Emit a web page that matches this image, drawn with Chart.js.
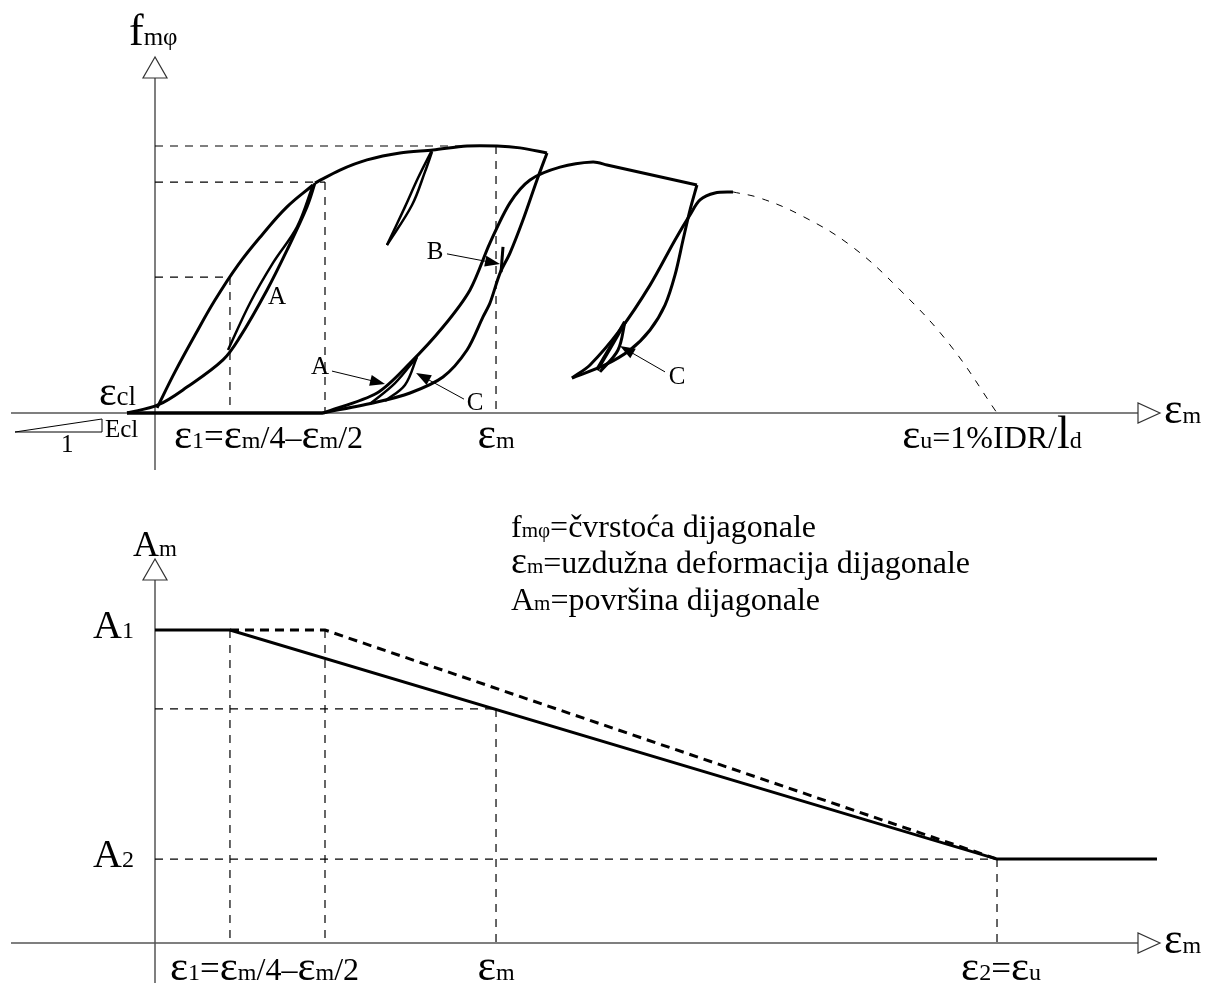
<!DOCTYPE html>
<html>
<head>
<meta charset="utf-8">
<script src="https://cdn.jsdelivr.net/npm/chart.js@4.4.0/dist/chart.umd.min.js"></script>
<style>
  body { margin: 0; background: #fff; }
  #wrap { position: relative; width: 1208px; height: 983px; }
  canvas { position: absolute; left: 0; }
  #top-chart { top: 0; }
  #bottom-chart { top: 480px; }
</style>
</head>
<body>
<div id="wrap">
  <canvas id="top-chart" width="1208" height="480"></canvas>
  <canvas id="bottom-chart" width="1208" height="503"></canvas>
</div>
<script>
'use strict'

// x: strain, scaled so that em = 4 ; top y: fm(phi) / peak ; bottom y: Am / A1
let keyStrains = [0.882, 2.0, 4.012, 9.906];   // e1, em/2, em, eu
let strengthLevels = [0.509, 0.865, 1.0];       // f at e1, em/2, em
let areaLevels = [1.0, 0.748, 0.268];           // A1, A at em, A2

// top diagram curves [strain, strength]
let firstLoad = [[0.024, 0.019], [0.235, 0.154], [0.471, 0.292], [0.706, 0.423], [0.976, 0.554], [1.259, 0.667], [1.553, 0.772], [1.859, 0.854]];
let firstReturn = [[-0.329, 0], [0.035, 0.03], [0.376, 0.097], [0.8, 0.199], [1.0, 0.285], [1.318, 0.461], [1.553, 0.61], [1.788, 0.772], [1.882, 0.861]];
let firstInner = [[0.859, 0.236], [1.118, 0.412], [1.388, 0.562], [1.671, 0.697], [1.859, 0.854]];
let envelope = [[1.882, 0.861], [2.176, 0.91], [2.494, 0.948], [2.882, 0.974], [3.271, 0.985], [3.671, 1.0], [4.024, 1.0], [4.294, 0.993], [4.612, 0.974]];
let peakLoopA = [[3.259, 0.985], [3.094, 0.88], [2.941, 0.772], [2.729, 0.629]];
let peakLoopB = [[3.259, 0.978], [3.176, 0.903], [3.024, 0.779], [2.729, 0.629]];
let secondUnload = [[4.612, 0.974], [4.494, 0.873], [4.329, 0.723], [4.176, 0.599], [4.059, 0.524], [3.941, 0.412], [3.859, 0.36], [3.671, 0.236], [3.388, 0.135], [3.0, 0.075], [2.612, 0.041], [1.976, 0]];
let secondReload = [[1.976, 0], [2.612, 0.075], [3.0, 0.187], [3.388, 0.322], [3.706, 0.461], [3.941, 0.637], [4.176, 0.787], [4.412, 0.873], [4.765, 0.921], [5.153, 0.94], [5.318, 0.929], [6.376, 0.854]];
let secondInnerA = [[2.529, 0.034], [2.824, 0.112], [3.082, 0.21]];
let secondInnerB = [[2.706, 0.045], [2.941, 0.105], [3.082, 0.21]];
let thirdReload = [[4.906, 0.131], [5.118, 0.18], [5.471, 0.311], [5.824, 0.479], [6.118, 0.648], [6.294, 0.742], [6.412, 0.798], [6.588, 0.824], [6.8, 0.828]];
let thirdUnload = [[6.376, 0.854], [6.294, 0.76], [6.212, 0.648], [6.118, 0.517], [6.0, 0.404], [5.824, 0.311], [5.588, 0.236], [5.294, 0.18], [4.906, 0.131]];
let thirdInnerA = [[5.2, 0.161], [5.353, 0.243], [5.529, 0.341]];
let thirdInnerB = [[5.235, 0.154], [5.447, 0.236], [5.529, 0.341]];
let softening = [[6.8, 0.828], [7.118, 0.805], [7.588, 0.742], [8.176, 0.629], [8.765, 0.461], [9.353, 0.255], [9.906, 0]];
let closedBase = [[-0.329, 0], [1.976, 0]];

// bottom diagram [strain, area]
let areaSolid = [[0, 1.0], [0.882, 1.0], [9.906, 0.268], [11.788, 0.268]];
let areaDashed = [[0.882, 1.0], [2.0, 1.0], [9.906, 0.268]];

// pointer letters on the loops [letter, text at, arrow from, arrow to]
let pointerNames = ['A', 'A', 'B', 'C', 'C'];
let pointerText = [[1.435, 0.431], [1.941, 0.169], [3.294, 0.603], [3.765, 0.037], [6.141, 0.135]];
let pointerFrom = [null, [2.082, 0.157], [3.435, 0.596], [3.635, 0.052], [6.0, 0.154]];
let pointerTo = [null, [2.706, 0.109], [4.059, 0.558], [3.071, 0.15], [5.471, 0.251]];

const FONT = '"Liberation Serif", "Times New Roman", serif';

function pts(arr) {
  return arr.map(p => ({ x: p[0], y: p[1] }));
}

function curve(arr, extra) {
  return Object.assign({
    data: pts(arr), showLine: true, pointRadius: 0, borderColor: '#000',
    borderWidth: 3, tension: 0.35, fill: false, clip: false
  }, extra || {});
}

function guide(arr) {
  return curve(arr, { borderWidth: 1.2, borderDash: [8, 7], tension: 0 });
}

function seg(ctx, x0, y0, x1, y1) {
  ctx.beginPath(); ctx.moveTo(x0, y0); ctx.lineTo(x1, y1); ctx.stroke();
}

function hollowTri(ctx, p) {
  ctx.beginPath(); ctx.moveTo(p[0][0], p[0][1]); ctx.lineTo(p[1][0], p[1][1]);
  ctx.lineTo(p[2][0], p[2][1]); ctx.closePath(); ctx.fillStyle = '#fff'; ctx.fill(); ctx.stroke();
}

function drawRuns(ctx, runs, x, y, align) {
  let widths = runs.map(r => { ctx.font = r[1] + 'px ' + FONT; return ctx.measureText(r[0]).width; });
  let total = widths.reduce((a, b) => a + b, 0);
  let cx = align === 'center' ? x - total / 2 : (align === 'right' ? x - total : x);
  ctx.textAlign = 'left'; ctx.textBaseline = 'alphabetic'; ctx.fillStyle = '#000';
  runs.forEach((r, i) => { ctx.font = r[1] + 'px ' + FONT; ctx.fillText(r[0], cx, y); cx += widths[i]; });
}

function axes(chart, bottomY, topY) {
  const ctx = chart.ctx;
  let ox = chart.scales.x.getPixelForValue(0);
  let oy = chart.scales.y.getPixelForValue(0);
  ctx.save();
  ctx.strokeStyle = '#555'; ctx.lineWidth = 1.5;
  seg(ctx, 11, oy, 1138, oy);
  seg(ctx, ox, bottomY, ox, topY + 21);
  ctx.lineWidth = 1.2; ctx.strokeStyle = '#333';
  hollowTri(ctx, [[1160, oy], [1138, oy - 10], [1138, oy + 10]]);
  hollowTri(ctx, [[ox, topY], [ox - 12, topY + 21], [ox + 12, topY + 21]]);
  ctx.restore();
}

let epsLabel1 = [['ε', 43], ['1', 24], ['=', 35], ['ε', 43], ['m', 24], ['/4–', 32], ['ε', 43], ['m', 24], ['/2', 32]];
let epsLabelM = [['ε', 44], ['m', 24]];

const topDecor = {
  id: 'topDecor',
  beforeDatasetsDraw(chart) {
    axes(chart, 470, 57);
    const ctx = chart.ctx;
    ctx.save();
    ctx.strokeStyle = '#000'; ctx.lineWidth = 1;
    ctx.beginPath(); ctx.moveTo(15, 432); ctx.lineTo(102, 419); ctx.lineTo(102, 432); ctx.lineTo(15, 432); ctx.stroke();
    ctx.restore();
  },
  afterDatasetsDraw(chart) {
    const ctx = chart.ctx;
    const X = v => chart.scales.x.getPixelForValue(v);
    const Y = v => chart.scales.y.getPixelForValue(v);
    let oy = Y(0);
    ctx.save();
    drawRuns(ctx, [['f', 44], ['mφ', 25]], 129, 45, 'left');
    drawRuns(ctx, epsLabel1, X(0) + 19, oy + 35, 'left');
    drawRuns(ctx, epsLabelM, X(keyStrains[2]), oy + 35, 'center');
    drawRuns(ctx, [['ε', 43], ['u', 24], ['=1%IDR/', 32], ['l', 46], ['d', 24]], X(keyStrains[3]) - 5, oy + 35, 'center');
    drawRuns(ctx, epsLabelM, 1164, oy + 10, 'left');
    drawRuns(ctx, [['ε', 42], ['cl', 27]], 136, oy - 8, 'right');
    drawRuns(ctx, [['Ecl', 25]], 105, oy + 24, 'left');
    drawRuns(ctx, [['1', 25]], 61, oy + 39, 'left');

    // letters and pointer arrows
    for (let i = 0; i < pointerNames.length; i++) {
      ctx.font = '25px ' + FONT; ctx.textAlign = 'center'; ctx.textBaseline = 'middle';
      ctx.fillText(pointerNames[i], X(pointerText[i][0]), Y(pointerText[i][1]));
      if (!pointerFrom[i]) continue;
      let x0 = X(pointerFrom[i][0]), y0 = Y(pointerFrom[i][1]);
      let x1 = X(pointerTo[i][0]), y1 = Y(pointerTo[i][1]);
      let a = Math.atan2(y1 - y0, x1 - x0);
      ctx.strokeStyle = '#000'; ctx.lineWidth = 1;
      seg(ctx, x0, y0, x1 - 10 * Math.cos(a), y1 - 10 * Math.sin(a));
      ctx.beginPath();
      ctx.moveTo(x1, y1);
      ctx.lineTo(x1 - 15 * Math.cos(a) + 5.5 * Math.sin(a), y1 - 15 * Math.sin(a) - 5.5 * Math.cos(a));
      ctx.lineTo(x1 - 15 * Math.cos(a) - 5.5 * Math.sin(a), y1 - 15 * Math.sin(a) + 5.5 * Math.cos(a));
      ctx.closePath(); ctx.fillStyle = '#000'; ctx.fill();
    }
    ctx.lineWidth = 3;
    seg(ctx, X(4.094), Y(0.622), X(4.071), Y(0.528));
    ctx.restore();
  }
};

const bottomDecor = {
  id: 'bottomDecor',
  beforeDatasetsDraw(chart) {
    axes(chart, chart.height, 79);
  },
  afterDatasetsDraw(chart) {
    const ctx = chart.ctx;
    const X = v => chart.scales.x.getPixelForValue(v);
    const Y = v => chart.scales.y.getPixelForValue(v);
    let oy = Y(0);
    ctx.save();
    drawRuns(ctx, [['A', 36], ['m', 23]], 133, 76, 'left');
    drawRuns(ctx, [['A', 40], ['1', 24]], 93, Y(areaLevels[0]) + 8, 'left');
    drawRuns(ctx, [['A', 40], ['2', 24]], 93, Y(areaLevels[2]) + 8, 'left');
    drawRuns(ctx, [['f', 32], ['mφ', 21], ['=čvrstoća dijagonale', 32]], 511, 57, 'left');
    drawRuns(ctx, [['ε', 38], ['m', 21], ['=uzdužna deformacija dijagonale', 32]], 511, 93, 'left');
    drawRuns(ctx, [['A', 32], ['m', 21], ['=površina dijagonale', 32]], 511, 130, 'left');
    drawRuns(ctx, epsLabel1, X(0) + 15, oy + 37, 'left');
    drawRuns(ctx, epsLabelM, X(keyStrains[2]), oy + 37, 'center');
    drawRuns(ctx, [['ε', 43], ['2', 24], ['=', 35], ['ε', 43], ['u', 24]], X(keyStrains[3]) + 4, oy + 37, 'center');
    drawRuns(ctx, epsLabelM, 1164, oy + 10, 'left');
    ctx.restore();
  }
};

function baseOptions(xMin, xMax, yMin, yMax) {
  return {
    responsive: false,
    animation: false,
    events: [],
    layout: { padding: 0 },
    plugins: { legend: { display: false }, tooltip: { enabled: false }, title: { display: false } },
    scales: {
      x: { type: 'linear', min: xMin, max: xMax, display: false },
      y: { type: 'linear', min: yMin, max: yMax, display: false }
    }
  };
}

let e1 = keyStrains[0], eHalf = keyStrains[1], eM = keyStrains[2], eU = keyStrains[3];

let topData = {
  datasets: [
    guide([[0, strengthLevels[2]], [eM, strengthLevels[2]]]),
    guide([[0, strengthLevels[1]], [eHalf, strengthLevels[1]]]),
    guide([[0, strengthLevels[0]], [e1, strengthLevels[0]]]),
    guide([[e1, strengthLevels[0]], [e1, 0]]),
    guide([[eHalf, strengthLevels[1]], [eHalf, 0]]),
    guide([[eM, strengthLevels[2]], [eM, 0]]),
    curve(softening, { borderWidth: 1, borderDash: [7, 8], tension: 0.4 }),
    curve(closedBase, { borderWidth: 3.5, tension: 0 }),
    curve(firstLoad, { tension: 0.4 }),
    curve(firstReturn),
    curve(firstInner, { borderWidth: 2.5 }),
    curve(envelope, { tension: 0.3 }),
    curve(peakLoopA, { borderWidth: 2.5 }),
    curve(peakLoopB, { borderWidth: 2.5 }),
    curve(secondUnload, { tension: 0.3 }),
    curve(secondReload, { tension: 0.3 }),
    curve(secondInnerA, { borderWidth: 2.5 }),
    curve(secondInnerB, { borderWidth: 2.5 }),
    curve(thirdReload, { tension: 0.3 }),
    curve(thirdUnload, { tension: 0.3 }),
    curve(thirdInnerA, { borderWidth: 4 }),
    curve(thirdInnerB, { borderWidth: 3 })
  ]
};

let bottomData = {
  datasets: [
    guide([[0, areaLevels[1]], [eM, areaLevels[1]]]),
    guide([[0, areaLevels[2]], [eU, areaLevels[2]]]),
    guide([[e1, areaLevels[0]], [e1, 0]]),
    guide([[eHalf, areaLevels[0]], [eHalf, 0]]),
    guide([[eM, areaLevels[1]], [eM, 0]]),
    guide([[eU, areaLevels[2]], [eU, 0]]),
    curve(areaDashed, { borderDash: [9, 6], tension: 0 }),
    curve(areaSolid, { tension: 0 })
  ]
};

new Chart(document.getElementById('top-chart').getContext('2d'), {
  type: 'scatter',
  data: topData,
  options: baseOptions(-155 / 85, 1053 / 85, -67 / 267, 413 / 267),
  plugins: [topDecor]
});

new Chart(document.getElementById('bottom-chart').getContext('2d'), {
  type: 'scatter',
  data: bottomData,
  options: baseOptions(-155 / 85, 1053 / 85, -40 / 313, 463 / 313),
  plugins: [bottomDecor]
});
</script>
</body>
</html>
